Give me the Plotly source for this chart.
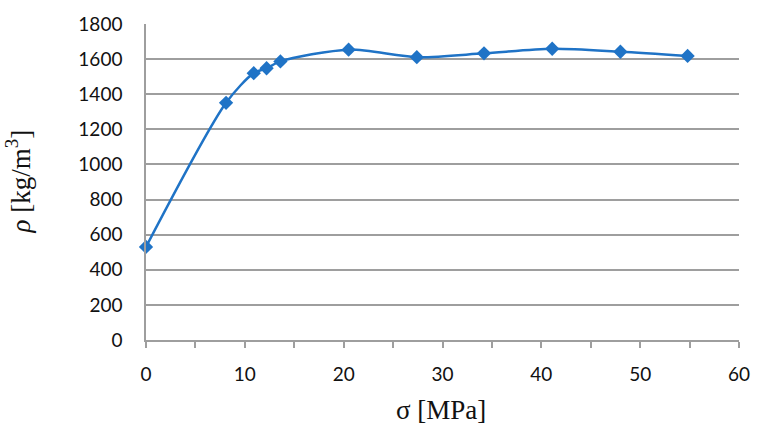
import plotly.graph_objects as go

sigma = [0, 8.1, 10.9, 12.2, 13.6, 20.5, 27.4, 34.2, 41.1, 48.0, 54.8]
rho = [530, 1351, 1520, 1548, 1587, 1654, 1611, 1633, 1659, 1642, 1618]

x_ticks = [0, 10, 20, 30, 40, 50, 60]
y_ticks = [0, 200, 400, 600, 800, 1000, 1200, 1400, 1600, 1800]

blue = "#1F73C6"
grid = "#9E9E9E"

fig = go.Figure()
fig.add_trace(go.Scatter(
    x=sigma, y=rho, mode="lines+markers",
    line=dict(color=blue, width=2.5, shape="spline", smoothing=0.8),
    marker=dict(symbol="diamond", size=11, color=blue),
    cliponaxis=False,
    showlegend=False,
))

fig.update_layout(
    width=762, height=429,
    margin=dict(l=146, r=19, t=17, b=89),
    paper_bgcolor="white", plot_bgcolor="white",
    font=dict(family="Lato, Open Sans, sans-serif", size=19, color="#111"),
    xaxis=dict(
        range=[0, 60], tickvals=x_ticks, ticktext=[str(v) for v in x_ticks],
        showgrid=False, zeroline=False,
        showline=True, linecolor=grid, linewidth=1.5,
        ticks="outside", ticklen=6, tickcolor=grid, tickwidth=1.5,
        minor=dict(dtick=5, ticks="outside", ticklen=6, tickcolor=grid, tickwidth=1.5, showgrid=False),
        ticklabelstandoff=10,
        tickfont=dict(size=19),
    ),
    yaxis=dict(
        range=[0, 1800], tickvals=y_ticks, ticktext=[str(v) for v in y_ticks],
        showgrid=True, gridcolor=grid, gridwidth=1.5, zeroline=False,
        showline=True, linecolor=grid, linewidth=1.5,
        ticks="", ticklabelstandoff=18,
        tickfont=dict(size=19),
    ),
    annotations=[
        dict(text="σ [MPa]", xref="paper", yref="paper", x=0.497, y=-0.22,
             xanchor="center", yanchor="middle", showarrow=False,
             font=dict(family="Liberation Serif, Times New Roman, serif", size=27, color="#111")),
        dict(text="<i>ρ</i> [kg/m<sup>3</sup>]", xref="paper", yref="paper", x=-0.215, y=0.5,
             xanchor="center", yanchor="middle", showarrow=False, textangle=-90,
             font=dict(family="Liberation Serif, Times New Roman, serif", size=27, color="#111")),
    ],
)

fig.write_html("out.html")
